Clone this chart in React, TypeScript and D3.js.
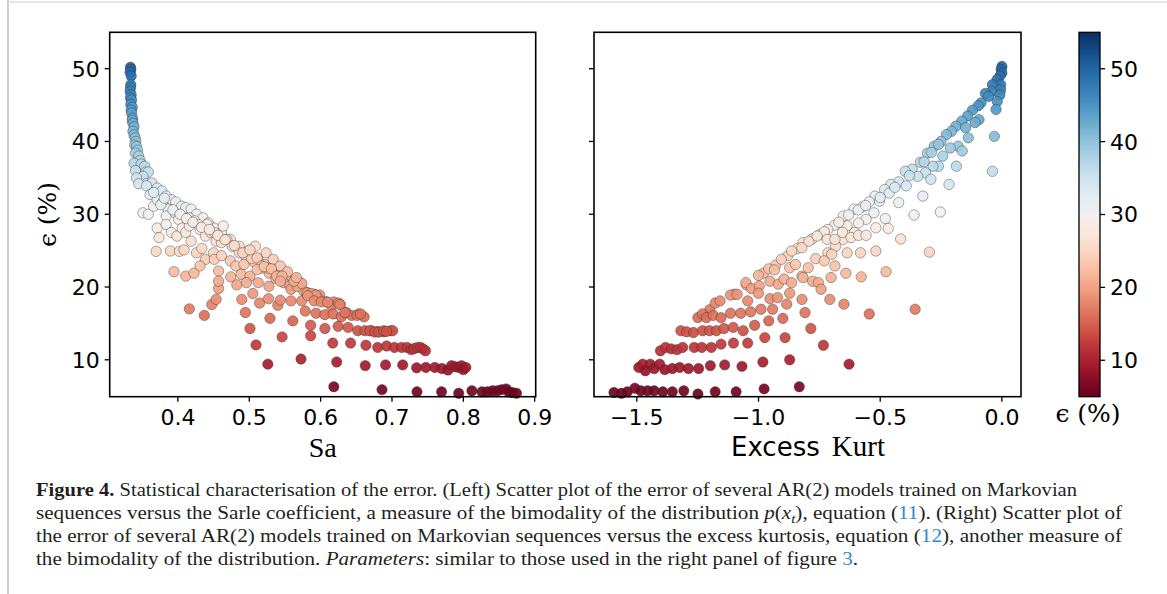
import React from 'react';
import * as d3 from 'd3';

const W = 1167;
const H = 594;

// ---- data: [Sa, eps %] ----
const saPoints: [number, number][] = [
  [0.3335,50.2],[0.334,49.9],[0.333,49.5],[0.3345,49.0],[0.334,47.8],[0.3335,47.4],[0.333,46.9],[0.3345,46.4],[0.3335,46.0],[0.335,45.7],[0.334,45.1],[0.336,44.7],[0.3345,44.3],[0.335,43.9],[0.3365,43.2],[0.336,42.9],[0.337,42.5],[0.3385,42.0],[0.337,41.4],[0.3385,40.9],[0.34,40.5],[0.341,40.0],[0.3395,39.5],[0.342,39.3],[0.3435,38.8],[0.3405,38.4],[0.345,38.0],[0.347,37.4],[0.3385,37.0],[0.3485,36.9],[0.3535,36.6],[0.3405,36.0],[0.355,35.8],[0.3585,35.8],[0.351,35.2],[0.342,35.0],[0.356,34.2],[0.3635,34.3],[0.345,34.2],
  [0.371,33.6],[0.3775,33.2],[0.3835,32.5],[0.391,32.0],[0.397,31.7],[0.405,31.1],[0.411,30.9],[0.4185,30.7],[0.426,30.0],[0.435,29.5],[0.4425,28.8],[0.451,28.1],[0.461,27.5],[0.4735,26.55],[0.486,25.6],[0.4985,25.0],[0.512,23.9],[0.522,23.1],[0.532,22.4],[0.541,21.7],[0.551,21.5],[0.5635,20.9],[0.5725,20.5],[0.582,19.2],[0.591,19.0],[0.5985,18.9],[0.6075,18.0],[0.6185,17.95],[0.6275,17.6],[0.636,16.5],[0.6435,16.1],[0.6535,16.3],[0.661,15.9],[0.671,14.0],[0.68,13.9],[0.6885,13.85],[0.6985,14.0],[0.701,14.0],
  [0.356,33.9],[0.361,32.7],[0.351,30.2],[0.3585,30.0],[0.366,31.1],[0.371,32.0],[0.3785,31.6],[0.386,30.7],[0.3835,29.75],[0.396,30.2],[0.371,28.1],[0.3735,26.8],[0.3835,28.6],[0.391,27.5],[0.3985,27.0],[0.401,29.3],[0.406,28.1],[0.411,27.5],[0.416,28.4],[0.416,29.5],[0.4235,29.1],[0.4285,28.6],[0.431,27.9],[0.4385,27.0],[0.441,28.6],[0.446,27.5],[0.451,27.5],[0.4535,26.3],[0.461,26.1],[0.4635,28.4],[0.4685,26.55],[0.476,25.6],[0.486,24.7],[0.496,24.0],[0.5085,25.6],[0.5235,24.7],[0.5335,23.8],[0.5435,22.9],[0.5535,22.1],
  [0.366,33.0],[0.376,31.3],[0.381,32.2],[0.393,30.6],[0.403,30.0],[0.412,29.4],[0.421,28.9],[0.433,28.2],[0.444,27.9],[0.456,27.1],[0.466,26.5],[0.479,25.7],[0.491,24.7],[0.506,23.5],[0.518,22.6],[0.528,21.9],[0.537,21.2],[0.548,20.6],[0.557,20.2],[0.576,19.5],[0.596,18.5],[0.615,17.4],
  [0.3695,24.9],[0.3895,24.95],[0.402,24.9],[0.4085,25.1],[0.4185,26.3],[0.426,24.7],[0.4335,25.3],[0.4385,23.8],[0.45,24.7],[0.451,23.8],[0.461,24.3],[0.4735,23.6],[0.481,22.9],[0.4925,23.1],[0.5035,23.9],[0.511,24.0],[0.5175,22.9],[0.526,22.6],[0.501,25.1],
  [0.3945,22.1],[0.411,21.5],[0.4225,21.9],[0.431,22.9],[0.457,22.2],[0.474,21.4],[0.4885,21.75],[0.501,21.5],[0.511,22.4],[0.521,22.8],[0.531,22.5],[0.5385,21.5],[0.546,21.5],
  [0.457,19.8],[0.457,20.8],[0.4825,20.3],[0.496,20.6],[0.5125,20.6],[0.5275,20.1],[0.5435,20.8],[0.5585,19.7],[0.567,20.1],[0.5735,20.5],[0.581,19.2],[0.587,19.1],[0.5935,18.9],[0.5625,20.8],[0.566,21.3],
  [0.416,17.0],[0.437,16.1],[0.4475,17.6],[0.4535,18.3],[0.4895,18.3],[0.505,19.1],[0.5145,17.8],[0.527,18.4],[0.54,17.5],[0.5435,18.2],[0.5585,18.1],[0.5735,18.1],[0.582,18.8],[0.591,18.1],[0.601,17.95],[0.61,17.9],[0.625,17.8],[0.627,17.6],
  [0.4945,16.5],[0.529,15.7],[0.561,15.35],[0.5785,16.7],[0.5935,16.4],[0.606,16.2],[0.6175,16.3],[0.629,15.9],[0.634,16.5],[0.651,16.1],[0.656,16.3],
  [0.501,14.3],[0.586,14.75],[0.606,14.3],[0.6245,14.6],[0.6385,14.45],[0.652,14.0],[0.662,14.0],[0.669,14.0],[0.676,13.8],[0.6815,13.8],[0.6885,14.0],[0.6925,13.9],[0.546,13.15],[0.586,13.3],
  [0.5095,12.05],[0.617,12.3],[0.642,12.3],[0.6635,12.0],[0.68,11.7],[0.6925,11.9],[0.7035,11.7],[0.7135,11.7],[0.721,11.7],[0.727,11.4],[0.731,11.55],[0.736,11.7],[0.74,11.7],[0.7435,11.5],[0.747,11.25],
  [0.526,9.4],[0.5725,10.1],[0.6225,9.7],[0.6625,9.2],[0.691,9.3],[0.715,9.3],[0.7345,8.9],[0.7475,8.95],[0.76,8.95],[0.77,8.8],[0.7785,8.6],[0.7835,9.2],[0.7885,9.05],[0.7935,8.95],[0.7975,9.2],[0.8,8.65],[0.8035,8.95],
  [0.6185,6.3],[0.686,5.9],[0.735,5.6],[0.7695,5.6],[0.7935,5.4],[0.812,5.75],[0.826,5.6],[0.8335,5.6],[0.841,5.75],[0.8475,5.75],[0.8535,5.9],[0.86,6.0],[0.8635,5.6],[0.8685,5.5],[0.8745,5.4],
];

// ---- data: [Excess Kurt, eps %] ----
const kurtPoints: [number, number][] = [
  [0,50.3],[-0.003,49.9],[0,49.4],[-0.008,49.0],[-0.02,48.5],[-0.005,47.8],[-0.039,47.8],[-0.005,47.1],[-0.042,46.9],[-0.068,46.6],[-0.008,46.4],[-0.055,46.2],[-0.019,45.5],[-0.086,45.3],[-0.097,44.9],[-0.024,44.4],[-0.121,44.3],[-0.141,43.5],[-0.094,43.0],[-0.165,42.8],[-0.11,42.6],[-0.189,42.1],[-0.149,41.9],[-0.207,41.4],[-0.228,40.95],[-0.031,40.7],[-0.138,40.5],[-0.25,40.0],[-0.278,39.35],[-0.18,39.35],[-0.212,39.1],[-0.306,38.4],[-0.163,38.7],[-0.243,38.0],[-0.335,37.15],[-0.187,36.6],[-0.261,36.6],[-0.283,36.6],[-0.369,36.2],[-0.397,35.9],[-0.039,35.9],[-0.314,35.7],[-0.346,35.2],[-0.292,34.8],[-0.424,34.45],[-0.456,34.1],[-0.217,34.1],[-0.393,33.9],[-0.482,33.4],[-0.463,32.9],[-0.522,32.5],[-0.325,32.5],[-0.545,31.7],[-0.424,31.6],[-0.503,31.8],[-0.573,31.0],[-0.608,30.7],[-0.253,30.3],[-0.526,30.2],[-0.361,29.9],[-0.652,29.75],[-0.479,29.4],[-0.558,29.3],[-0.589,28.8],[-0.687,28.5],[-0.636,28.4],[-0.715,27.9],[-0.605,27.5],[-0.749,27.2],[-0.652,26.55],[-0.817,26.1],[-0.683,25.6],[-0.715,24.7],
  [-1.2,16.9],[-1.1,19.0],[-1.05,20.3],[-0.98,21.9],[-0.93,23.0],[-0.88,24.3],[-0.84,25.3],[-0.78,26.6],[-0.73,27.6],[-0.67,28.9],[-0.63,29.9],[-0.59,30.6],[-0.56,31.2],[-0.5,32.3],[-0.44,33.7],[-0.38,35.3],[-0.32,37.2],[-0.29,38.5],[-0.26,39.6],
  [-0.864,24.95],[-0.822,25.4],[-0.793,26.3],[-0.759,27.0],[-0.718,26.55],[-0.686,26.55],[-0.655,27.5],[-0.62,26.8],[-0.589,27.1],[-0.558,27.1],[-0.518,28.15],[-0.467,28.05],[-0.416,26.6],
  [-1.0005,21.6],[-0.958,22.5],[-0.9345,22.35],[-0.906,23.8],[-0.872,22.65],[-0.848,23.1],[-0.8215,21.5],[-0.796,22.65],[-0.765,23.9],[-0.73,23.6],[-0.699,24.5],[-0.686,22.9],[-0.636,24.7],[-0.581,24.7],[-0.518,24.95],[-0.298,24.8],
  [-1.052,20.6],[-1.029,19.8],[-0.997,20.15],[-0.953,20.8],[-0.919,20.4],[-0.895,21.1],[-0.864,20.6],[-0.817,21.3],[-0.7775,20.8],[-0.754,20.6],[-0.743,19.7],[-0.702,21.3],[-0.641,21.9],[-0.578,21.4],[-0.476,22.1],
  [-1.178,17.8],[-1.158,18.1],[-1.115,18.9],[-1.088,19.0],[-1.0445,18.1],[-1.0005,19.15],[-0.953,18.4],[-0.922,18.55],[-0.872,19.15],[-0.8215,18.3],[-0.707,18.3],
  [-1.249,15.8],[-1.23,16.3],[-1.214,15.8],[-1.186,16.1],[-1.154,15.8],[-1.115,16.4],[-1.073,16.4],[-1.032,16.6],[-0.99,16.95],[-0.942,16.95],[-0.884,17.65],[-0.809,16.5],[-0.649,17.65],[-0.3565,16.95],
  [-1.319,14.0],[-1.296,13.85],[-1.2675,13.75],[-1.23,14.0],[-1.2015,14.0],[-1.173,14.0],[-1.142,14.3],[-1.104,14.45],[-1.063,14.0],[-1.016,14.75],[-0.958,15.35],[-0.9,15.7],[-0.785,14.3],[-0.545,16.3],
  [-1.403,11.25],[-1.382,11.7],[-1.3585,11.5],[-1.335,11.4],[-1.3115,11.7],[-1.264,11.7],[-1.233,11.7],[-1.194,11.7],[-1.154,12.15],[-1.103,12.3],[-1.0445,12.3],[-0.974,13.05],[-0.891,13.05],[-0.7335,12.0],
  [-1.492,8.95],[-1.476,9.4],[-1.445,9.4],[-1.465,8.5],[-1.429,8.8],[-1.406,9.4],[-1.385,8.65],[-1.354,8.8],[-1.324,8.95],[-1.288,8.8],[-1.246,8.8],[-1.198,9.2],[-1.139,9.3],[-1.068,9.1],[-0.982,9.7],[-0.872,10.0],[-0.628,9.4],
  [-1.594,5.5],[-1.563,5.4],[-1.539,5.6],[-1.508,6.1],[-1.484,5.75],[-1.456,5.75],[-1.429,5.75],[-1.393,5.6],[-1.354,5.6],[-1.307,5.75],[-1.249,5.3],[-1.178,5.6],[-1.092,5.6],[-0.977,6.0],[-0.8325,6.3],
];

const saTicks = [0.4, 0.5, 0.6, 0.7, 0.8, 0.9];
const kurtTicks = [-1.5, -1.0, -0.5, 0.0];
const epsTicks = [10, 20, 30, 40, 50];
const colorbarTicks = [10, 20, 30, 40, 50];
const epsDomain: [number, number] = [4.93, 55];
const colorDomain: [number, number] = [5, 55];
const saDomain: [number, number] = [0.3044, 0.9014];
const kurtDomain: [number, number] = [-1.676, 0.0785];

// layout
const TOP = 32.3;
const BOTTOM = 396.7;
const L = { x0: 109.7, x1: 535.7 };
const R = { x0: 594, x1: 1021 };
const CB = { x0: 1079, x1: 1100 };
const TICK_FONT = 'DejaVu Sans, sans-serif';
const SERIF = 'DejaVu Serif, Liberation Serif, serif';
const CAP_FONT = 'Liberation Serif, Times New Roman, serif';

const yScale = d3.scaleLinear().domain(epsDomain).range([BOTTOM, TOP]);
const colorScale = d3.scaleSequential(d3.interpolateRdBu).domain(colorDomain);
const fmt = d3.format('.1f');

function Panel({ x0, x1, domain, points, ticks, showYLabels }: any) {
  const x = d3.scaleLinear().domain(domain).range([x0, x1]);
  return (
    <g>
      {points.map((p: [number, number], i: number) => (
        <circle key={i} cx={x(p[0])} cy={yScale(p[1])} r={5.2}
          fill={colorScale(p[1])} fillOpacity={0.92}
          stroke="#333" strokeOpacity={0.75} strokeWidth={0.55} />
      ))}
      <rect x={x0} y={TOP} width={x1 - x0} height={BOTTOM - TOP} fill="none" stroke="#000" strokeWidth={1.6} />
      {ticks.map((t: number) => (
        <g key={t}>
          <line x1={x(t)} x2={x(t)} y1={BOTTOM} y2={BOTTOM + 5} stroke="#000" strokeWidth={1.3} />
          <text x={x(t)} y={425} textAnchor="middle" fontFamily={TICK_FONT} fontSize={22} fill="#000">{fmt(t)}</text>
        </g>
      ))}
      {epsTicks.map((t) => (
        <g key={t}>
          <line x1={x0 - 5} x2={x0} y1={yScale(t)} y2={yScale(t)} stroke="#000" strokeWidth={1.3} />
          {showYLabels && (
            <text x={x0 - 10} y={yScale(t)} dy="0.36em" textAnchor="end" fontFamily={TICK_FONT} fontSize={22} fill="#000">{t}</text>
          )}
        </g>
      ))}
    </g>
  );
}

export default function App() {
  const stops = d3.range(0, 1.0001, 0.05);
  const cbY = d3.scaleLinear().domain(colorDomain).range([BOTTOM, TOP]);
  const blue = '#2a8dcc';
  return (
    <svg width={W} height={H} style={{ position: 'absolute', left: 0, top: 0, display: 'block', background: '#fff' }}>
      <defs>
        <linearGradient id="cb" x1="0" y1="1" x2="0" y2="0">
          {stops.map((s) => (
            <stop key={s} offset={s} stopColor={d3.interpolateRdBu(s)} />
          ))}
        </linearGradient>
      </defs>
      <rect x={0} y={0} width={W} height={H} fill="#fff" />
      <line x1={8} x2={8} y1={0} y2={H} stroke="#cfcfcf" strokeWidth={2} />
      <line x1={8} x2={W} y1={2} y2={2} stroke="#dcdcdc" strokeWidth={1.5} />

      <Panel x0={L.x0} x1={L.x1} domain={saDomain} points={saPoints} ticks={saTicks} showYLabels={true} />
      <Panel x0={R.x0} x1={R.x1} domain={kurtDomain} points={kurtPoints} ticks={kurtTicks} showYLabels={false} />

      {/* axis labels */}
      <text transform={`translate(56,${(TOP + BOTTOM) / 2}) rotate(-90)`} textAnchor="middle" fontFamily={SERIF} fontSize={25} fill="#000">ϵ (%)</text>
      <text x={(L.x0 + L.x1) / 2} y={457} textAnchor="middle" fontFamily={CAP_FONT} fontSize={28} fill="#000">Sa</text>
      <text x={731} y={456} textAnchor="start" fontFamily={TICK_FONT} fontSize={26} fill="#000">Excess</text>
      <text x={885} y={456} textAnchor="end" fontFamily={CAP_FONT} fontSize={29} fill="#000">Kurt</text>

      {/* colorbar */}
      <rect x={CB.x0} y={TOP} width={CB.x1 - CB.x0} height={BOTTOM - TOP} fill="url(#cb)" stroke="#000" strokeWidth={1.3} />
      {colorbarTicks.map((t) => (
        <g key={t}>
          <line x1={CB.x1} x2={CB.x1 + 5} y1={cbY(t)} y2={cbY(t)} stroke="#000" strokeWidth={1.3} />
          <text x={CB.x1 + 10} y={cbY(t)} dy="0.36em" fontFamily={TICK_FONT} fontSize={22} fill="#000">{t}</text>
        </g>
      ))}
      <text x={1088} y={422} textAnchor="middle" fontFamily={SERIF} fontSize={25} fill="#000">ϵ (%)</text>

      {/* caption */}
      <g fontFamily={CAP_FONT} fontSize={18.5} fill="#231f20">
        <text x={36} y={496} textLength={1041} lengthAdjust="spacingAndGlyphs">
          <tspan fontWeight="bold">Figure 4.</tspan> Statistical characterisation of the error. (Left) Scatter plot of the error of several AR(2) models trained on Markovian
        </text>
        <text x={36} y={519} textLength={1086} lengthAdjust="spacingAndGlyphs">
          sequences versus the Sarle coefficient, a measure of the bimodality of the distribution <tspan fontStyle="italic">p</tspan>(<tspan fontStyle="italic">x</tspan><tspan fontStyle="italic" fontSize={13} dy={4}>t</tspan><tspan dy={-4}>), equation (</tspan><tspan fill={blue}>11</tspan>). (Right) Scatter plot of
        </text>
        <text x={36} y={542} textLength={1086} lengthAdjust="spacingAndGlyphs">
          the error of several AR(2) models trained on Markovian sequences versus the excess kurtosis, equation (<tspan fill={blue}>12</tspan>), another measure of
        </text>
        <text x={36} y={565} textLength={822} lengthAdjust="spacingAndGlyphs">
          the bimodality of the distribution. <tspan fontStyle="italic">Parameters</tspan>: similar to those used in the right panel of figure <tspan fill={blue}>3</tspan>.
        </text>
      </g>
    </svg>
  );
}
